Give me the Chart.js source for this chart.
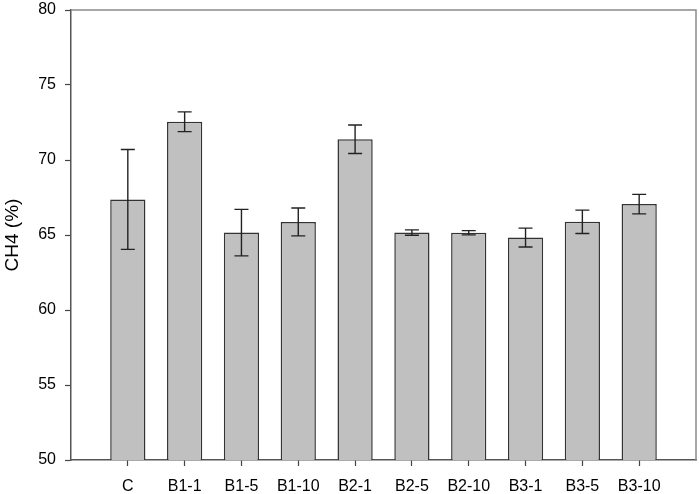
<!DOCTYPE html>
<html>
<head>
<meta charset="utf-8">
<script src="https://cdn.jsdelivr.net/npm/chart.js@4"></script>
<style>
  html, body { margin: 0; padding: 0; background: #fff; }
  #wrap { width: 699px; height: 494px; }
</style>
</head>
<body>
<div id="wrap"><canvas id="ch4Chart" width="699" height="494"></canvas></div>
<script>
// groups on the x axis
const groups = ["C", "B1-1", "B1-5", "B1-10", "B2-1", "B2-5", "B2-10", "B3-1", "B3-5", "B3-10"];
// mean CH4 content (%)
const ch4Mean = [67.37, 72.55, 65.16, 65.87, 71.38, 65.16, 65.15, 64.83, 65.88, 67.06];
// error (+/-)
const ch4Err = [3.33, 0.66, 1.55, 0.93, 0.95, 0.18, 0.14, 0.63, 0.78, 0.65];
const yTicks = [50, 55, 60, 65, 70, 75, 80];

// empty slot at each end so the bars sit one step in from the frame
const labels = [""].concat(groups, [""]);
const values = [null].concat(ch4Mean, [null]);
const errors = [null].concat(ch4Err, [null]);

const errorBars = {
    id: "errorBars",
    afterDatasetsDraw(chart) {
        const ctx = chart.ctx;
        const y = chart.scales.y;
        const meta = chart.getDatasetMeta(0);
        ctx.save();
        ctx.strokeStyle = "#222";
        ctx.lineWidth = 1.4;
        meta.data.forEach((bar, i) => {
            if (values[i] == null) return;
            const top = y.getPixelForValue(values[i] + errors[i]);
            const bot = y.getPixelForValue(values[i] - errors[i]);
            ctx.beginPath();
            ctx.moveTo(bar.x, top); ctx.lineTo(bar.x, bot);
            ctx.moveTo(bar.x - 7, top); ctx.lineTo(bar.x + 7, top);
            ctx.moveTo(bar.x - 7, bot); ctx.lineTo(bar.x + 7, bot);
            ctx.stroke();
        });
        ctx.restore();
    }
};

// grey top and right edge of the frame
const frame = {
    id: "frame",
    afterDraw(chart) {
        const a = chart.chartArea;
        const ctx = chart.ctx;
        ctx.save();
        ctx.strokeStyle = "#8a8a8a";
        ctx.lineWidth = 1.5;
        ctx.beginPath();
        ctx.moveTo(a.left, a.top);
        ctx.lineTo(a.right, a.top);
        ctx.lineTo(a.right, a.bottom);
        ctx.stroke();
        ctx.restore();
    }
};

const ctx = document.getElementById("ch4Chart").getContext("2d");
new Chart(ctx, {
    type: "bar",
    data: {
        labels: labels,
        datasets: [{
            data: values,
            backgroundColor: "#c0c0c0",
            borderColor: "#333",
            borderWidth: 1.5,
            borderSkipped: false,
            barPercentage: 0.62,
            categoryPercentage: 1
        }]
    },
    options: {
        responsive: false,
        animation: false,
        layout: { padding: { top: 10, right: 3, left: 0, bottom: 0 } },
        plugins: { legend: { display: false }, tooltip: { enabled: false } },
        scales: {
            x: {
                offset: false,
                afterFit: s => { s.height = 34; s.paddingLeft = 0; s.paddingRight = 0; },
                border: { color: "#555", width: 1.5 },
                grid: {
                    offset: false,
                    drawOnChartArea: false,
                    tickLength: 6,
                    tickWidth: 1.2,
                    tickColor: c => (c.index === 0 || c.index === labels.length - 1) ? "rgba(0,0,0,0)" : "#444"
                },
                ticks: {
                    color: "#000",
                    padding: 11,
                    maxRotation: 0,
                    autoSkip: false,
                    font: { family: "Liberation Sans, Arial, sans-serif", size: 16 }
                }
            },
            y: {
                min: 50,
                max: 80,
                afterFit: s => { s.width = 71; s.paddingTop = 0; s.paddingBottom = 0; },
                afterBuildTicks: s => { s.ticks = yTicks.map(v => ({ value: v })); },
                border: { color: "#555", width: 1.5 },
                grid: { drawOnChartArea: false, tickLength: 6, tickWidth: 1.2, tickColor: "#444" },
                ticks: {
                    color: "#000",
                    padding: 9,
                    font: { family: "Liberation Sans, Arial, sans-serif", size: 16 }
                },
                title: {
                    display: true,
                    text: "CH4 (%)",
                    color: "#000",
                    padding: { top: 1, bottom: 0 },
                    font: { family: "Liberation Sans, Arial, sans-serif", size: 19 }
                }
            }
        }
    },
    plugins: [errorBars, frame]
});
</script>
</body>
</html>
